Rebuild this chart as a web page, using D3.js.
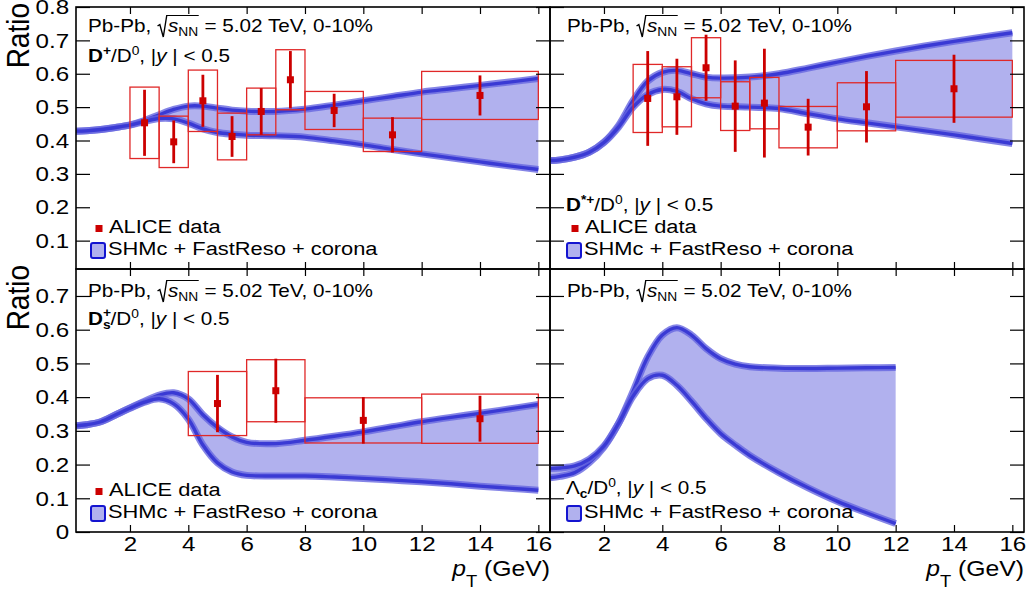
<!DOCTYPE html>
<html>
<head>
<meta charset="utf-8">
<script src="https://cdn.jsdelivr.net/npm/d3@7"></script>
<style>
  body { margin: 0; background: #fff; }
  svg { display: block; font-family: "Liberation Sans", Arial, sans-serif; }
  text { white-space: pre; }
</style>
</head>
<body>
<div id="chart"></div>
<script>
(function(){

// model band edges (SHMc + FastReso + corona)
var ptGrid = [0.15, 0.5, 1, 1.5, 2, 2.5, 3, 3.5, 4, 4.5, 5, 5.5, 6, 7, 8, 9, 10, 11, 12, 13, 14, 15, 16];
var dplusUpper = [0.428, 0.429, 0.433, 0.439, 0.447, 0.460, 0.477, 0.493, 0.503, 0.503, 0.497, 0.491, 0.488, 0.487, 0.494, 0.506, 0.519, 0.532, 0.545, 0.555, 0.565, 0.575, 0.586];
var dplusLower = [0.428, 0.429, 0.433, 0.439, 0.446, 0.457, 0.466, 0.465, 0.452, 0.435, 0.424, 0.419, 0.416, 0.414, 0.410, 0.399, 0.387, 0.373, 0.360, 0.348, 0.336, 0.324, 0.313];
var dstarUpper = [0.340, 0.342, 0.350, 0.365, 0.395, 0.445, 0.520, 0.578, 0.604, 0.610, 0.600, 0.590, 0.587, 0.590, 0.600, 0.617, 0.635, 0.652, 0.668, 0.683, 0.697, 0.710, 0.723];
var dstarLower = [0.340, 0.342, 0.350, 0.365, 0.394, 0.440, 0.500, 0.538, 0.553, 0.547, 0.525, 0.510, 0.503, 0.500, 0.496, 0.480, 0.465, 0.453, 0.441, 0.429, 0.417, 0.404, 0.391];
var dsUpper = [0.315, 0.318, 0.327, 0.347, 0.368, 0.388, 0.406, 0.413, 0.395, 0.348, 0.310, 0.282, 0.266, 0.262, 0.272, 0.284, 0.297, 0.312, 0.327, 0.340, 0.352, 0.365, 0.378];
var dsLower = [0.315, 0.318, 0.327, 0.347, 0.367, 0.385, 0.395, 0.380, 0.335, 0.258, 0.205, 0.178, 0.168, 0.166, 0.166, 0.163, 0.159, 0.154, 0.149, 0.143, 0.136, 0.130, 0.124];
var lcGrid = [0.15, 0.5, 1, 1.5, 2, 2.5, 3, 3.5, 4, 4.5, 5, 5.5, 6, 6.5, 7, 8, 9, 10, 11, 12];
var lcCurveA = [0.161, 0.165, 0.176, 0.206, 0.252, 0.322, 0.418, 0.519, 0.584, 0.606, 0.584, 0.544, 0.514, 0.498, 0.490, 0.486, 0.485, 0.486, 0.487, 0.488];
var lcCurveB = [0.188, 0.190, 0.196, 0.216, 0.255, 0.322, 0.403, 0.455, 0.465, 0.435, 0.388, 0.337, 0.292, 0.258, 0.227, 0.176, 0.131, 0.091, 0.057, 0.025];

// ALICE data: bin edges, centres, values, stat and syst errors
var dplusEdges = [2, 3, 4, 5, 6, 7, 8, 10, 12, 16];
var dplusPt = [2.5, 3.5, 4.5, 5.5, 6.5, 7.5, 9, 11, 14];
var dplusVal = [0.453, 0.396, 0.519, 0.412, 0.487, 0.582, 0.490, 0.417, 0.535];
var dplusStat = [0.099, 0.064, 0.078, 0.061, 0.070, 0.086, 0.050, 0.053, 0.060];
var dplusSyst = [0.107, 0.077, 0.092, 0.070, 0.070, 0.090, 0.057, 0.050, 0.072];

var dstarEdges = [3, 4, 5, 6, 7, 8, 10, 12, 16];
var dstarPt = [3.5, 4.5, 5.5, 6.5, 7.5, 9, 11, 14];
var dstarVal = [0.526, 0.531, 0.618, 0.503, 0.512, 0.440, 0.501, 0.555];
var dstarStat = [0.142, 0.114, 0.099, 0.137, 0.163, 0.085, 0.107, 0.102];
var dstarSyst = [0.102, 0.090, 0.090, 0.073, 0.077, 0.062, 0.072, 0.085];

var dsEdges = [4, 6, 8, 12, 16];
var dsPt = [5, 7, 10, 14];
var dsVal = [0.381, 0.419, 0.331, 0.336];
var dsStat = [0.085, 0.095, 0.069, 0.068];
var dsSyst = [0.095, 0.092, 0.067, 0.073];

var xTickVals = [2, 4, 6, 8, 10, 12, 14, 16];
var yTickTop = [0.1, 0.2, 0.3, 0.4, 0.5, 0.6, 0.7, 0.8];
var yTickBottom = [0, 0.1, 0.2, 0.3, 0.4, 0.5, 0.6, 0.7];

var SX = 1.15; // glyphs in the figure are a bit wider than tall
var red = "#cc0000", boxRed = "#e02828";
var bandFill = "#b1b1ee", lineCore = "#3a3ad4", lineHalo = "#6666e0";

var width = 1028, height = 592;

var svg = d3.select("#chart")
  .append("svg")
    .attr("width", width)
    .attr("height", height);

var panels = [
  {x0: 76, x1: 550, y0: 7, y1: 269, yDom: [0.015, 0.8], left: true, bottom: false,
   grid: ptGrid, up: dplusUpper, lo: dplusLower,
   data: {edges: dplusEdges, pt: dplusPt, val: dplusVal, stat: dplusStat, syst: dplusSyst}},
  {x0: 550, x1: 1024, y0: 7, y1: 269, yDom: [0.015, 0.8], left: false, bottom: false,
   grid: ptGrid, up: dstarUpper, lo: dstarLower,
   data: {edges: dstarEdges, pt: dstarPt, val: dstarVal, stat: dstarStat, syst: dstarSyst}},
  {x0: 76, x1: 550, y0: 269, y1: 532, yDom: [0, 0.78], left: true, bottom: true,
   grid: ptGrid, up: dsUpper, lo: dsLower,
   data: {edges: dsEdges, pt: dsPt, val: dsVal, stat: dsStat, syst: dsSyst}},
  {x0: 550, x1: 1024, y0: 269, y1: 532, yDom: [0, 0.78], left: false, bottom: true,
   grid: lcGrid, up: lcCurveA, lo: lcCurveB, data: null}
];

function addText(parent, x, y, size, anchor) {
  return parent.append("text")
    .attr("transform", "translate(" + x + "," + y + ") scale(" + SX + ",1)")
    .attr("font-size", size)
    .attr("text-anchor", anchor || "start")
    .attr("fill", "black");
}

function span(t, str, opt) {
  opt = opt || {};
  var s = t.append("tspan").text(str);
  if (opt.size) s.attr("font-size", opt.size);
  if (opt.bold) s.attr("font-weight", "bold");
  if (opt.italic) s.attr("font-style", "italic");
  if (opt.dy) s.attr("dy", opt.dy);
  if (opt.dx) s.attr("dx", opt.dx);
  return s;
}

// "Pb-Pb, sqrt(s_NN) = 5.02 TeV, 0-10%"
function header(x, y) {
  var g = svg.append("g")
    .attr("transform", "translate(" + x + "," + y + ") scale(" + SX + ",1)")
    .attr("font-size", 18);
  var t1 = g.append("text").text("Pb-Pb, ");
  var rx = t1.node().getComputedTextLength() + 0.5;
  var t2 = g.append("text").attr("x", rx + 9);
  span(t2, "s", {italic: true});
  span(t2, "NN", {size: 12, dy: 4});
  var ox = rx + 9 + t2.node().getComputedTextLength() + 0.5;
  g.append("path")
    .attr("d", "M" + rx + ",-6 L" + (rx + 2) + ",-7.5 L" + (rx + 5) + ",5 L" + (rx + 8) + ",-16.5 H" + ox)
    .attr("fill", "none")
    .attr("stroke", "black")
    .attr("stroke-width", 1.2);
  g.append("text").attr("x", ox).text(" = 5.02 TeV, 0-10%");
}

function ratioLabel(t) {
  span(t, "/D", {dy: 7});
  span(t, "0", {size: 12, dy: -7});
  span(t, ", |", {dy: 7});
  span(t, "y", {italic: true});
  span(t, " | < 0.5");
}

function legendData(x, y) {
  svg.append("rect")
    .attr("x", x - 3.5).attr("y", y - 4)
    .attr("width", 7).attr("height", 7)
    .attr("fill", red);
  span(addText(svg, x + 10, y + 4, 19), "ALICE data");
}

function legendModel(x, y) {
  svg.append("rect")
    .attr("x", x).attr("y", y - 12)
    .attr("width", 14).attr("height", 15)
    .attr("rx", 2)
    .attr("fill", bandFill)
    .attr("stroke", "#1414d0")
    .attr("stroke-width", 2);
  span(addText(svg, x + 17, y, 19), "SHMc + FastReso + corona");
}

function fmtY(d) { return d === 0 ? "0" : d.toFixed(1); }
function fmtX(d) { return String(d); }

panels.forEach(function(p) {
  var x = d3.scaleLinear().domain([0.15, 16.4]).range([p.x0, p.x1]);
  var y = d3.scaleLinear().domain(p.yDom).range([p.y1, p.y0]);
  var g = svg.append("g");
  var idx = d3.range(p.grid.length);
  var curve = d3.curveCatmullRom.alpha(0.5);

  // model band
  g.append("path")
    .datum(idx)
    .attr("d", d3.area()
      .x(function(i){ return x(p.grid[i]); })
      .y0(function(i){ return y(p.lo[i]); })
      .y1(function(i){ return y(p.up[i]); })
      .curve(curve))
    .attr("fill", bandFill)
    .attr("stroke", "none");

  [p.up, p.lo].forEach(function(arr) {
    var line = d3.line()
      .x(function(i){ return x(p.grid[i]); })
      .y(function(i){ return y(arr[i]); })
      .curve(curve);
    g.append("path").datum(idx).attr("d", line)
      .attr("fill", "none").attr("stroke", lineHalo)
      .attr("stroke-width", 7).attr("stroke-opacity", 0.8);
    g.append("path").datum(idx).attr("d", line)
      .attr("fill", "none").attr("stroke", lineCore)
      .attr("stroke-width", 3.4);
  });

  // data: syst boxes, stat bars, markers
  if (p.data) {
    var dd = p.data;
    var di = d3.range(dd.pt.length);
    g.selectAll("rect.syst")
      .data(di)
      .enter()
      .append("rect")
        .attr("class", "syst")
        .attr("x", function(i){ return x(dd.edges[i]); })
        .attr("width", function(i){ return x(dd.edges[i + 1]) - x(dd.edges[i]); })
        .attr("y", function(i){ return y(dd.val[i] + dd.syst[i]); })
        .attr("height", function(i){ return y(dd.val[i] - dd.syst[i]) - y(dd.val[i] + dd.syst[i]); })
        .attr("fill", "none")
        .attr("stroke", boxRed)
        .attr("stroke-width", 1.3);
    g.selectAll("line.stat")
      .data(di)
      .enter()
      .append("line")
        .attr("class", "stat")
        .attr("x1", function(i){ return x(dd.pt[i]); })
        .attr("x2", function(i){ return x(dd.pt[i]); })
        .attr("y1", function(i){ return y(dd.val[i] + dd.stat[i]); })
        .attr("y2", function(i){ return y(dd.val[i] - dd.stat[i]); })
        .attr("stroke", red)
        .attr("stroke-width", 2.8);
    g.selectAll("rect.pt")
      .data(di)
      .enter()
      .append("rect")
        .attr("class", "pt")
        .attr("x", function(i){ return x(dd.pt[i]) - 3.5; })
        .attr("y", function(i){ return y(dd.val[i]) - 3.5; })
        .attr("width", 7)
        .attr("height", 7)
        .attr("fill", red);
  }

  // ticks on all four sides, pointing inward
  var yMinor = d3.range(0, 41).map(function(k){ return k * 0.02; })
    .filter(function(v){ return v >= p.yDom[0] - 1e-9 && v <= p.yDom[1] + 1e-9; });
  var xMinor = d3.range(1, 33).map(function(k){ return k * 0.5; });
  var yMajor = p.y0 < 100 ? yTickTop : yTickBottom;

  function axisPair(make, scale, minor, major, innerMin, innerMaj, fmt, pad, tr) {
    var a = svg.append("g").attr("transform", tr);
    a.call(make(scale).tickValues(minor).tickSize(innerMin).tickFormat(""));
    a.call(make(scale).tickValues(major).tickSize(innerMaj).tickPadding(pad)
      .tickFormat(fmt || ""));
    a.selectAll(".domain").remove();
    a.attr("font-size", 21).attr("font-family", null);
    a.selectAll("line").attr("stroke", "black").attr("stroke-width", 1.2);
    a.selectAll("text").attr("fill", "black").attr("transform", "scale(" + SX + ",1)");
    return a;
  }

  axisPair(d3.axisBottom, x, xMinor, xTickVals, -3.5, -7, p.bottom ? fmtX : null, 4.5, "translate(0," + p.y1 + ")");
  axisPair(d3.axisTop, x, xMinor, xTickVals, -3.5, -7, null, 6, "translate(0," + p.y0 + ")");
  axisPair(d3.axisLeft, y, yMinor, yMajor, -6, -14, p.left ? fmtY : null, 6, "translate(" + p.x0 + ",0)");
  axisPair(d3.axisRight, y, yMinor, yMajor, -6, -14, null, 6, "translate(" + p.x1 + ",0)");

  svg.append("rect")
    .attr("x", p.x0).attr("y", p.y0)
    .attr("width", p.x1 - p.x0).attr("height", p.y1 - p.y0)
    .attr("fill", "none")
    .attr("stroke", "black")
    .attr("stroke-width", 1.6);

  // axis titles
  if (p.left) {
    span(svg.append("text")
      .attr("transform", "translate(29," + (p.y0 - 4) + ") scale(" + SX + ",1) rotate(-90)")
      .attr("font-size", 28)
      .attr("text-anchor", "end"), "Ratio");
  }
  if (p.bottom) {
    var xt = addText(svg, p.x1, 576, 21.5, "end");
    span(xt, "p", {italic: true});
    span(xt, "T", {size: 16, dy: 11});
    span(xt, " (GeV)", {dy: -11});
  }
});

// panel texts
header(88, 32);
header(567, 32);
header(88, 297);
header(567, 297);

var t = addText(svg, 88, 62, 18);
span(t, "D", {bold: true});
span(t, "+", {bold: true, size: 12, dy: -7});
ratioLabel(t);

t = addText(svg, 566, 211, 18);
span(t, "D", {bold: true});
span(t, "*+", {bold: true, size: 12, dy: -7});
ratioLabel(t);

t = addText(svg, 88, 325, 18);
span(t, "D", {bold: true});
span(t, "+", {bold: true, size: 12, dy: -8});
span(t, "s", {bold: true, size: 12, dy: 12, dx: -7});
span(t, "/D", {dy: -4});
span(t, "0", {size: 12, dy: -7});
span(t, ", |", {dy: 7});
span(t, "y", {italic: true});
span(t, " | < 0.5");

t = addText(svg, 566, 494, 18);
span(t, "\u039b");
span(t, "c", {bold: true, size: 12, dy: 4});
span(t, "/D", {dy: -4});
span(t, "0", {size: 12, dy: -7});
span(t, ", |", {dy: 7});
span(t, "y", {italic: true});
span(t, " | < 0.5");

// legends
legendData(99, 229);
legendModel(91, 255);
legendData(575, 229);
legendModel(567, 255);
legendData(99, 492);
legendModel(91, 518);
legendModel(567, 518);

})();
</script>
</body>
</html>
